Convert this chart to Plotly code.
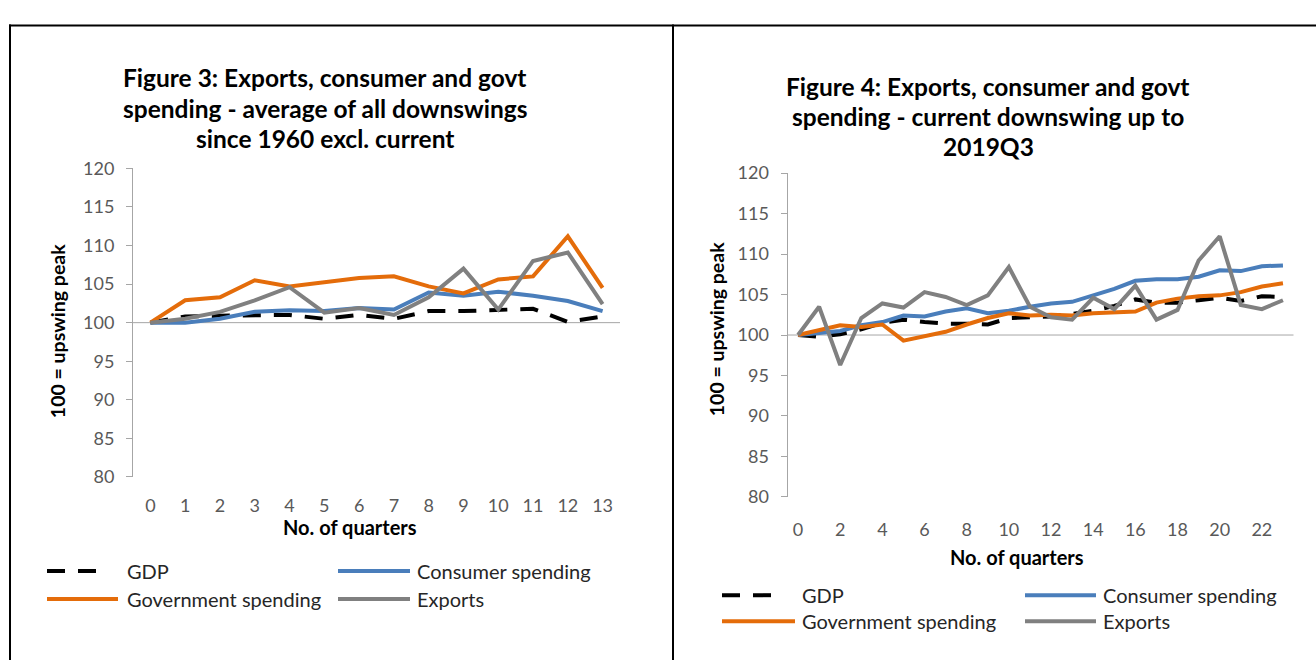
import plotly.graph_objects as go

W, H = 1316, 670

series_names = ["GDP", "Consumer spending", "Government spending", "Exports"]
series_colors = ["#000000", "#4a7ebb", "#e46c0a", "#808080"]
gdp_dash = "18px,13px"

# Figure 3: average of all downswings since 1960 (excl. current), 100 = upswing peak
quarters_fig3 = [0, 1, 2, 3, 4, 5, 6, 7, 8, 9, 10, 11, 12, 13]
gdp_fig3 = [100.0, 100.8, 100.9, 101.0, 101.0, 100.5, 101.0, 100.5, 101.5, 101.5, 101.7, 101.8, 100.1, 100.8]
consumer_fig3 = [100.0, 100.0, 100.5, 101.4, 101.6, 101.5, 101.9, 101.7, 103.9, 103.5, 104.0, 103.5, 102.8, 101.5]
govt_fig3 = [100.0, 102.9, 103.3, 105.5, 104.7, 105.2, 105.8, 106.0, 104.7, 103.8, 105.6, 106.0, 111.2, 104.5]
exports_fig3 = [100.0, 100.5, 101.4, 102.9, 104.6, 101.3, 101.9, 101.0, 103.3, 107.0, 101.7, 108.0, 109.1, 102.4]

# Figure 4: current downswing up to 2019Q3
quarters_fig4 = [0, 1, 2, 3, 4, 5, 6, 7, 8, 9, 10, 11, 12, 13, 14, 15, 16, 17, 18, 19, 20, 21, 22, 23]
gdp_fig4 = [100.0, 99.8, 100.1, 100.7, 101.5, 101.9, 101.6, 101.4, 101.4, 101.3, 102.1, 102.2,
            102.3, 102.6, 103.0, 103.6, 104.4, 104.0, 104.0, 104.3, 104.6, 104.2, 104.8, 104.7]
consumer_fig4 = [100.0, 100.3, 100.5, 101.2, 101.6, 102.4, 102.3, 102.9, 103.3, 102.7, 103.0, 103.5,
                 103.9, 104.1, 104.9, 105.7, 106.7, 106.9, 106.9, 107.2, 108.0, 107.9, 108.5, 108.6]
govt_fig4 = [100.0, 100.6, 101.2, 101.0, 101.3, 99.3, 99.9, 100.4, 101.3, 102.1, 102.7, 102.4,
             102.5, 102.4, 102.7, 102.8, 102.9, 104.0, 104.5, 104.8, 104.9, 105.3, 106.0, 106.4]
exports_fig4 = [100.0, 103.5, 96.3, 102.1, 103.9, 103.4, 105.3, 104.7, 103.7, 104.9, 108.4, 103.5,
                102.2, 101.9, 104.6, 103.2, 106.1, 101.9, 103.1, 109.2, 112.2, 103.7, 103.2, 104.3]

y_ticks = [80, 85, 90, 95, 100, 105, 110, 115, 120]
x_ticks_fig3 = quarters_fig3
x_ticks_fig4 = [0, 2, 4, 6, 8, 10, 12, 14, 16, 18, 20, 22]

title_fig3 = ["Figure 3: Exports, consumer and govt",
              "spending - average of all downswings",
              "since 1960 excl. current"]
title_fig4 = ["Figure 4: Exports, consumer and govt",
              "spending - current downswing up to",
              "2019Q3"]
y_title = "100 = upswing peak"
x_title = "No. of quarters"

FONT = "Lato, 'Open Sans', sans-serif"
AXIS_GREY = "#a6a6a6"
TICK_TEXT = "#595959"


def px(x):
    return x / W


def py(y):
    return 1 - y / H


fig = go.Figure()

panels = [
    dict(xa="x", ya="y", q=quarters_fig3,
         data=[gdp_fig3, consumer_fig3, govt_fig3, exports_fig3]),
    dict(xa="x2", ya="y2", q=quarters_fig4,
         data=[gdp_fig4, consumer_fig4, govt_fig4, exports_fig4]),
]

for p in panels:
    for name, color, vals in zip(series_names, series_colors, p["data"]):
        fig.add_trace(go.Scatter(
            x=p["q"], y=vals, name=name, mode="lines",
            xaxis=p["xa"], yaxis=p["ya"], showlegend=False,
            line=dict(color=color, width=4,
                      dash=gdp_dash if name == "GDP" else "solid"),
            hoverinfo="x+y+name",
        ))

axis_font = dict(family=FONT, size=18, color=TICK_TEXT)

yaxis_common = dict(
    range=[80, 120], tickvals=y_ticks, showgrid=False, zeroline=False,
    showline=True, linecolor=AXIS_GREY, linewidth=1,
    ticks="outside", ticklen=6, tickcolor=AXIS_GREY, tickwidth=1,
    tickfont=axis_font, ticklabelstandoff=8,
)
xaxis_common = dict(
    showgrid=False, zeroline=False, showline=False, ticks="",
    tickfont=axis_font,
)

fig.update_layout(
    width=W, height=H, margin=dict(l=0, r=0, t=0, b=0),
    paper_bgcolor="white", plot_bgcolor="white",
    font=dict(family=FONT, color="#000000"),
    xaxis=dict(domain=[px(133), px(620)], range=[-0.5, 13.5],
               tickvals=x_ticks_fig3, anchor="y", ticklabelstandoff=16,
               **xaxis_common),
    yaxis=dict(domain=[py(480.7), py(161.7)], anchor="x", **yaxis_common),
    xaxis2=dict(domain=[px(787.5), px(1293.5)], range=[-0.5, 23.5],
                tickvals=x_ticks_fig4, anchor="y2", ticklabelstandoff=20,
                **xaxis_common),
    yaxis2=dict(domain=[py(501.4), py(166.6)], anchor="x2", **yaxis_common),
)

# horizontal category axis crossing at the 100 level
for xa in ["x", "x2"]:
    fig.add_shape(type="line", xref=f"{xa} domain", yref=xa.replace("x", "y"),
                  x0=0, x1=1, y0=100, y1=100,
                  line=dict(color=AXIS_GREY, width=1), layer="below")

annotations = []


def text(x, y, s, size, bold=False, color="#000000", anchor="center", angle=0):
    annotations.append(dict(
        xref="paper", yref="paper", x=px(x), y=py(y), text=s, showarrow=False,
        xanchor=anchor, yanchor="middle", textangle=angle,
        font=dict(family=FONT, size=size, color=color,
                  weight="bold" if bold else "normal"),
    ))


# chart titles, one line each
for line, yy in zip(title_fig3, [68, 100, 131]):
    text(325, yy, line, 24.5, bold=True)
for line, yy in zip(title_fig4, [77, 108, 139]):
    text(988, yy, line, 24.5, bold=True)

# axis titles
text(57, 330, y_title, 19.5, bold=True, angle=-90)
text(716, 328, y_title, 19.5, bold=True, angle=-90)
text(350, 533, x_title, 20, bold=True)
text(1017, 563, x_title, 20, bold=True)

# legends: 2 x 2 grid of line keys and labels
legend_layouts = [
    # (key x0, key x1, label x, row y) for GDP, consumer, government, exports
    [(47, 104, 125, 578), (338, 410, 415, 578), (47, 118, 125, 607), (338, 410, 415, 607)],
    [(722, 779, 800, 603), (1025, 1096, 1101, 603), (722, 795, 800, 630), (1025, 1096, 1101, 630)],
]
for entries in legend_layouts:
    for (x0, x1, lx, ly), name, color in zip(entries, series_names, series_colors):
        fig.add_shape(type="line", xref="paper", yref="paper",
                      x0=px(x0), x1=px(x1), y0=py(ly), y1=py(ly),
                      line=dict(color=color, width=4,
                                dash=gdp_dash if name == "GDP" else "solid"))
        text(lx, ly, name, 20, color="#262626", anchor="left")

# table-cell frame around the two charts
frame = [(9, 14, 1316, 14), (10, 13, 10, 670), (673, 13, 673, 670)]
for x0, y0, x1, y1 in frame:
    fig.add_shape(type="line", xref="paper", yref="paper",
                  x0=px(x0), x1=px(x1), y0=py(y0), y1=py(y1),
                  line=dict(color="#000000", width=2))

fig.update_layout(annotations=annotations)

fig.write_html("out.html")
